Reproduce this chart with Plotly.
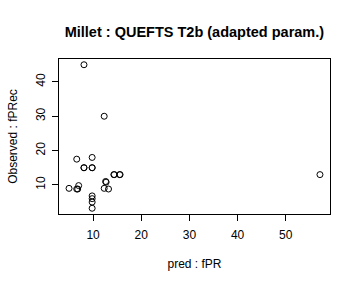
import plotly.graph_objects as go

pred_fPR = [8.1, 12.3, 6.6, 9.8, 8.1, 8.1, 9.8, 9.8, 14.3, 14.4, 15.5, 15.6,
            12.6, 12.7, 5.0, 6.6, 6.8, 7.0, 9.8, 9.8, 9.8, 9.8, 12.3, 13.2, 57.1]
obs_fPRec = [45, 30, 17.5, 18, 15, 15, 15, 15, 13, 13, 13, 13,
             11, 10.8, 9, 8.8, 8.8, 9.8, 6.8, 6, 5, 3.2, 9, 8.8, 13]
x_ticks = [10, 20, 30, 40, 50]
y_ticks = [10, 20, 30, 40]


def r_range(v):
    lo, hi = min(v), max(v)
    d = (hi - lo) * 0.04
    return [lo - d, hi + d]


font = "Liberation Sans, Arial, Helvetica, sans-serif"

fig = go.Figure(go.Scatter(
    x=pred_fPR, y=obs_fPRec, mode="markers",
    marker=dict(symbol="circle-open", size=6, color="black",
                line=dict(color="black", width=1)),
    showlegend=False, hoverinfo="skip"))

axis_common = dict(showgrid=False, zeroline=False, showline=True, mirror=True,
                   linecolor="black", linewidth=1, ticks="outside", ticklen=6,
                   tickcolor="black", tickwidth=1,
                   tickfont=dict(family=font, size=12, color="black"))

fig.update_layout(
    width=360, height=288,
    margin=dict(l=59, r=30, t=59, b=74),
    paper_bgcolor="white", plot_bgcolor="white",
    title=dict(text="<b>Millet : QUEFTS T2b (adapted param.)</b>",
               x=0.54, xanchor="center", y=1 - 32 / 288, yanchor="middle",
               font=dict(family=font, size=14.5, color="black")),
    xaxis=dict(range=r_range(pred_fPR), tickvals=x_ticks, ticklabelstandoff=4,
               title=dict(text="pred : fPR", standoff=18,
                          font=dict(family=font, size=12, color="black")),
               **axis_common),
    yaxis=dict(range=r_range(obs_fPRec), tickvals=y_ticks, tickangle=-90,
               ticklabelstandoff=2,
               title=dict(text="Observed : fPRec", standoff=14,
                          font=dict(family=font, size=12, color="black")),
               **axis_common),
)

fig.write_html("out.html")
